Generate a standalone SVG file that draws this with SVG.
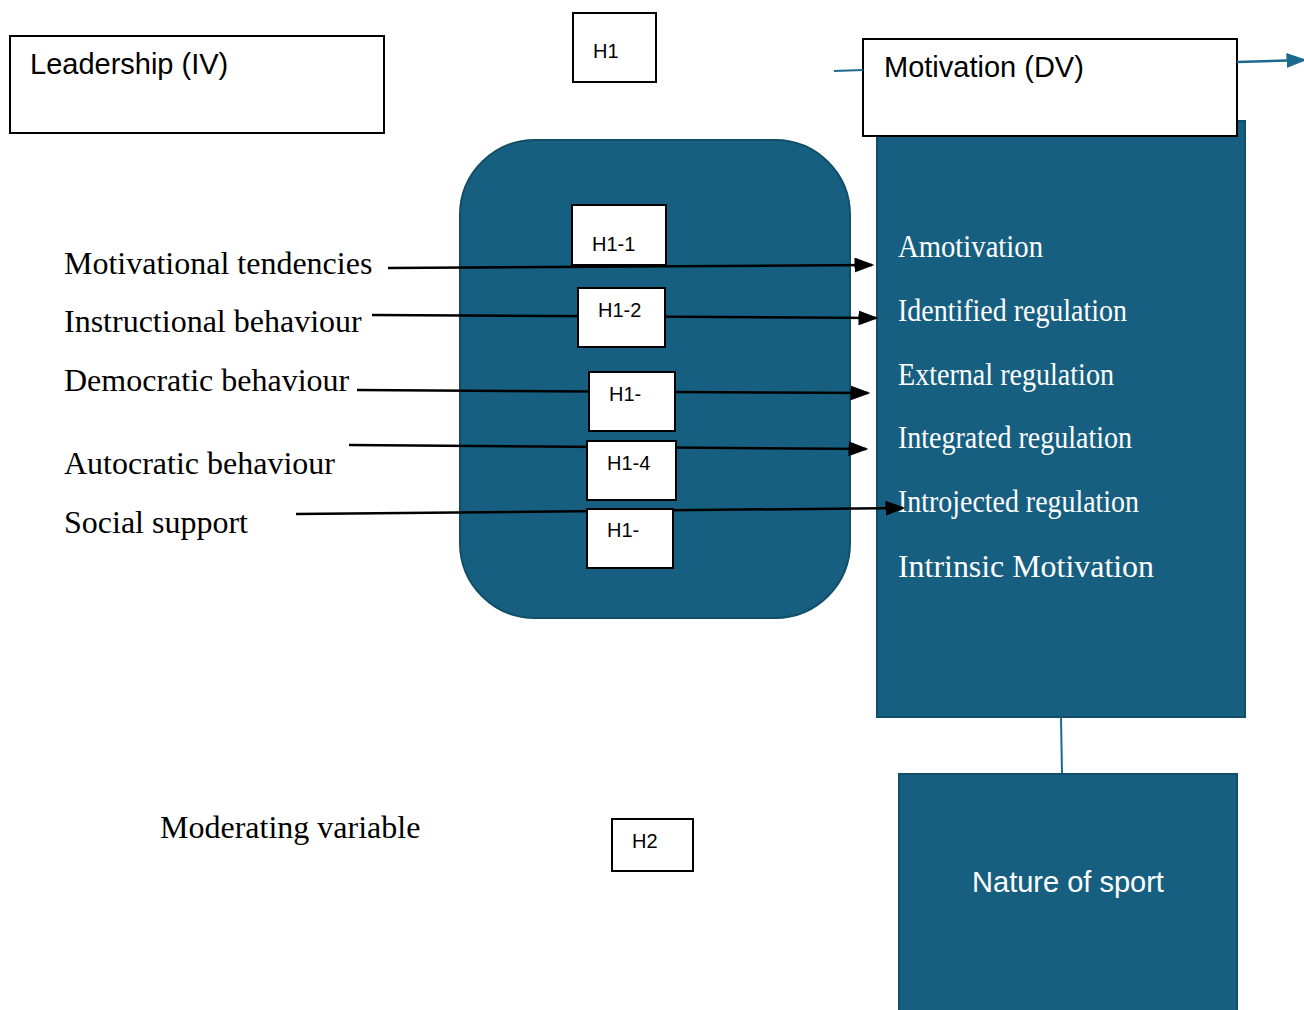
<svg xmlns="http://www.w3.org/2000/svg" width="1304" height="1010" viewBox="0 0 1304 1010">
<style>
.box{fill:#fff;stroke:#000;stroke-width:2}
.teal{fill:#175f80;stroke:#124d68;stroke-width:2}
.sans{font-family:"Liberation Sans",Arial,sans-serif;fill:#000}
.serif{font-family:"Liberation Serif","Times New Roman",serif;font-size:32px;fill:#000}
.wserif{font-family:"Liberation Serif","Times New Roman",serif;font-size:31px;fill:#fff}
.conn{stroke:#000;stroke-width:2.5;fill:none;marker-end:url(#ah)}
</style>
<defs>
<marker id="ah" markerWidth="8" markerHeight="6" refX="7" refY="3" orient="auto" markerUnits="strokeWidth">
<path d="M0,0 L8,3 L0,6 Z" fill="#000"/>
</marker>
<marker id="aht" markerWidth="8" markerHeight="6" refX="7" refY="3" orient="auto" markerUnits="strokeWidth">
<path d="M0,0 L8,3 L0,6 Z" fill="#1a6a8f"/>
</marker>
</defs>
<rect width="1304" height="1010" fill="#fff"/>

<g id="leadership">
<rect class="box" x="10" y="36" width="374" height="97"/>
<text class="sans" x="30" y="74" font-size="29">Leadership (IV)</text>
</g>

<g id="h1">
<rect class="box" x="573" y="13" width="83" height="69"/>
<text class="sans" x="593" y="58" font-size="20">H1</text>
</g>

<g id="mediator">
<rect class="teal" x="460" y="140" width="390" height="478" rx="75" ry="75"/>
</g>

<g id="motivation-panel">
<rect class="teal" x="877" y="121" width="368" height="596"/>
<text class="wserif" x="898" y="257" textLength="145" lengthAdjust="spacingAndGlyphs">Amotivation</text>
<text class="wserif" x="898" y="321" textLength="229" lengthAdjust="spacingAndGlyphs">Identified regulation</text>
<text class="wserif" x="898" y="385" textLength="216" lengthAdjust="spacingAndGlyphs">External regulation</text>
<text class="wserif" x="898" y="448" textLength="234" lengthAdjust="spacingAndGlyphs">Integrated regulation</text>
<text class="wserif" x="898" y="512" textLength="241" lengthAdjust="spacingAndGlyphs">Introjected regulation</text>
<text class="wserif" x="898" y="577" textLength="256" lengthAdjust="spacingAndGlyphs">Intrinsic Motivation</text>
</g>

<g id="motivation">
<rect class="box" x="863" y="39" width="374" height="97"/>
<text class="sans" x="884" y="77" font-size="29">Motivation (DV)</text>
</g>

<g id="left-labels">
<text class="serif" x="64" y="274">Motivational tendencies</text>
<text class="serif" x="64" y="332">Instructional behaviour</text>
<text class="serif" x="64" y="391">Democratic behaviour</text>
<text class="serif" x="64" y="474">Autocratic behaviour</text>
<text class="serif" x="64" y="533">Social support</text>
<text class="serif" x="160" y="838">Moderating variable</text>
</g>

<g id="connectors">
<line class="conn" x1="388" y1="268" x2="872" y2="265"/>
<line class="conn" x1="372" y1="315" x2="876" y2="318"/>
<line class="conn" x1="357" y1="390" x2="868" y2="393"/>
<line class="conn" x1="349" y1="445" x2="866" y2="449"/>
<line class="conn" x1="296" y1="514" x2="903" y2="508"/>
<line x1="834" y1="71" x2="863" y2="70" stroke="#1a6a8f" stroke-width="2"/>
<line x1="1237" y1="62" x2="1304" y2="60" stroke="#1a6a8f" stroke-width="2.5" marker-end="url(#aht)"/>
<line x1="1061" y1="717" x2="1062" y2="774" stroke="#1a6a8f" stroke-width="2"/>
</g>

<g id="h1-1">
<rect class="box" x="572" y="205" width="94" height="60"/>
<text class="sans" x="592" y="251" font-size="20">H1-1</text>
</g>
<g id="h1-2">
<rect class="box" x="578" y="288" width="87" height="59"/>
<text class="sans" x="598" y="317" font-size="20">H1-2</text>
</g>
<g id="h1-3">
<rect class="box" x="589" y="372" width="86" height="59"/>
<text class="sans" x="609" y="401" font-size="20">H1-</text>
</g>
<g id="h1-4">
<rect class="box" x="587" y="441" width="89" height="59"/>
<text class="sans" x="607" y="470" font-size="20">H1-4</text>
</g>
<g id="h1-5">
<rect class="box" x="587" y="509" width="86" height="59"/>
<text class="sans" x="607" y="537" font-size="20">H1-</text>
</g>

<g id="h2">
<rect class="box" x="612" y="819" width="81" height="52"/>
<text class="sans" x="632" y="848" font-size="20">H2</text>
</g>

<g id="nature">
<rect class="teal" x="899" y="774" width="338" height="240"/>
<text class="sans" x="1068" y="892" font-size="29" style="fill:#fff" text-anchor="middle">Nature of sport</text>
</g>
</svg>
